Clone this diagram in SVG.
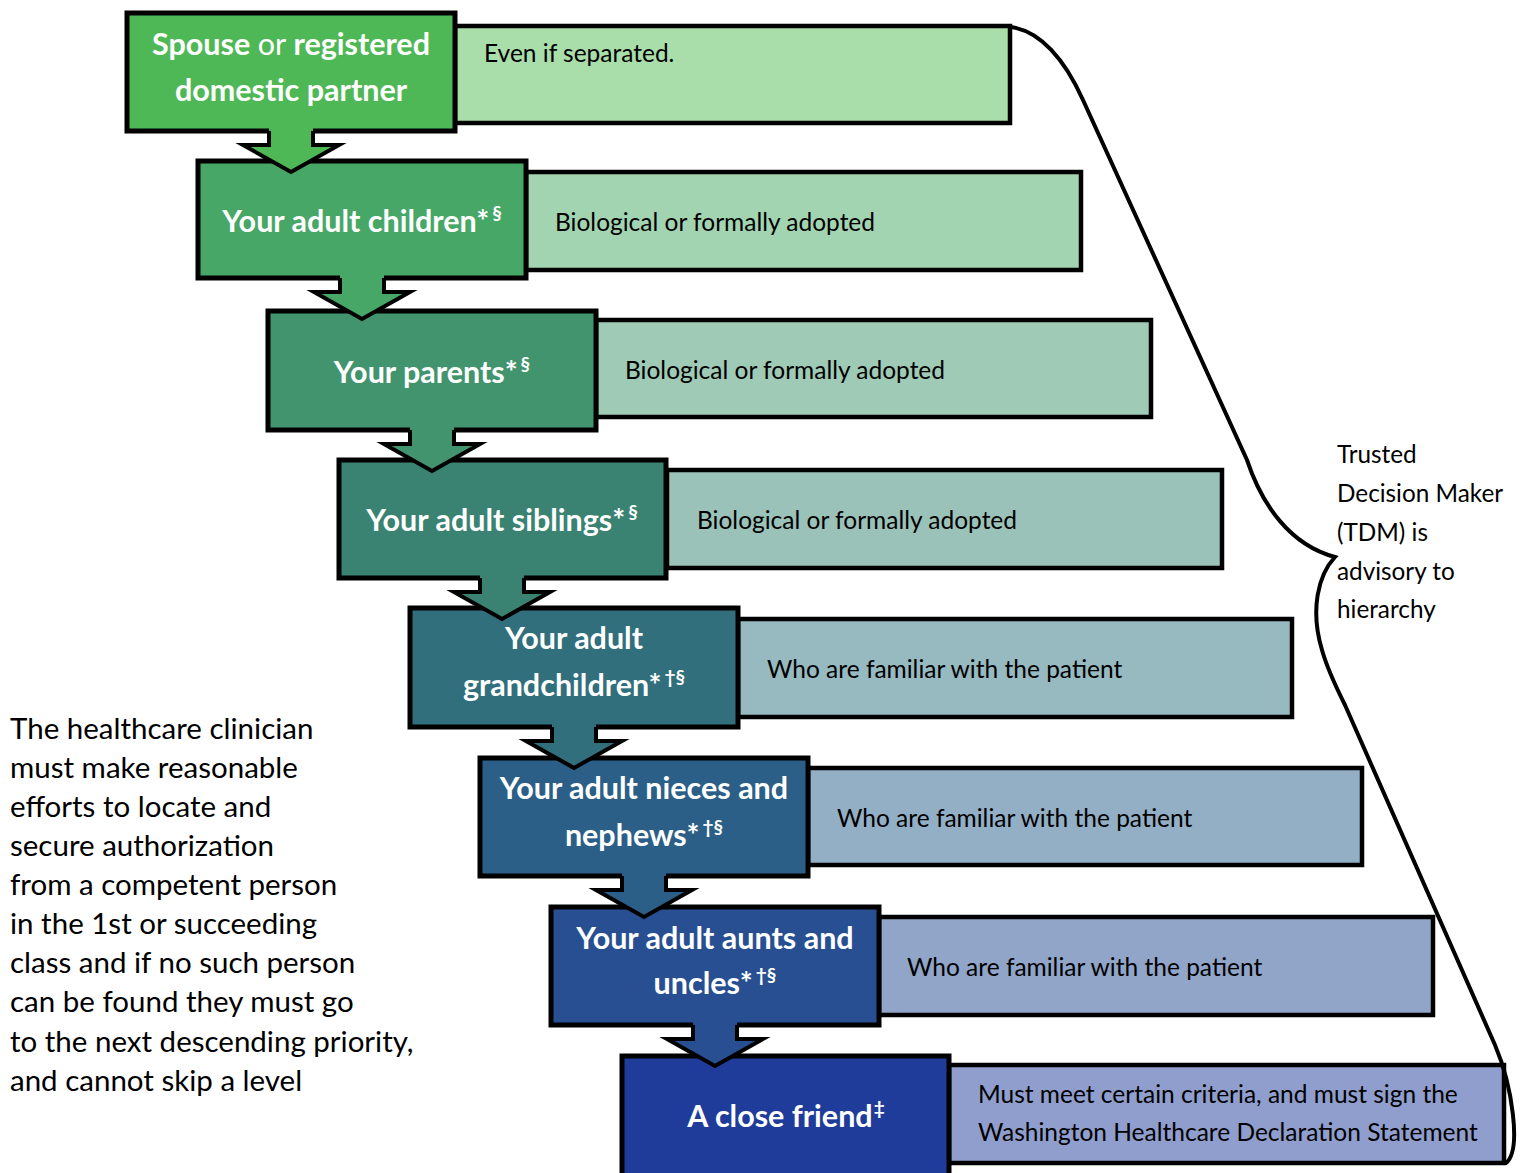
<svg xmlns="http://www.w3.org/2000/svg" width="1520" height="1173" viewBox="0 0 1520 1173">
<style>
.dk{stroke:#000;stroke-width:5}
.lt{stroke:#000;stroke-width:4.5}
.bt{font-family:Lato,"Liberation Sans",sans-serif;font-weight:bold;font-size:30.5px;fill:#fff;text-anchor:middle}
.nb{font-weight:normal}
.sp{font-size:19px}
.dt{font-family:Lato,"Liberation Sans",sans-serif;font-size:24.5px;fill:#000}
.side{font-family:Lato,"Liberation Sans",sans-serif;font-size:24.3px;fill:#000}
.left{font-family:Lato,"Liberation Sans",sans-serif;font-size:29.5px;fill:#000}
.ao{fill:none;stroke:#000;stroke-width:4;stroke-linejoin:miter}
.brace{fill:none;stroke:#000;stroke-width:4;stroke-linecap:round}
</style>
<rect width="1520" height="1173" fill="#fff"/>

<g id="detail1"><rect class="lt" x="455" y="26" width="555" height="97" fill="#a9dda9"/><text class="dt" x="484" y="62">Even if separated.</text></g>
<g id="detail2"><rect class="lt" x="526" y="172" width="555" height="98" fill="#a3d4b1"/><text class="dt" x="555" y="231">Biological or formally adopted</text></g>
<g id="detail3"><rect class="lt" x="596" y="320" width="555" height="97" fill="#9fcab5"/><text class="dt" x="625" y="379">Biological or formally adopted</text></g>
<g id="detail4"><rect class="lt" x="667" y="470" width="555" height="98" fill="#9bc2b8"/><text class="dt" x="697" y="529">Biological or formally adopted</text></g>
<g id="detail5"><rect class="lt" x="738" y="619" width="554" height="98" fill="#97b9c0"/><text class="dt" x="767" y="678">Who are familiar with the patient</text></g>
<g id="detail6"><rect class="lt" x="808" y="768" width="554" height="97" fill="#93afc5"/><text class="dt" x="837" y="827">Who are familiar with the patient</text></g>
<g id="detail7"><rect class="lt" x="879" y="917" width="554" height="98" fill="#90a5c8"/><text class="dt" x="907" y="976">Who are familiar with the patient</text></g>
<g id="detail8"><rect class="lt" x="949" y="1065" width="555" height="98" fill="#8f9ecd"/><text class="dt" x="978" y="1103">Must meet certain criteria, and must sign the</text><text class="dt" x="978" y="1141">Washington Healthcare Declaration Statement</text></g>

<g id="level1"><rect class="dk" x="127" y="13" width="328" height="118" fill="#4fb856"/><text class="bt" x="291" y="55">Spouse <tspan class="nb">or</tspan> registered</text><text class="bt" x="291" y="101">domestic partner</text></g>
<g id="level2"><rect class="dk" x="198" y="161" width="328" height="117" fill="#47a767"/><text class="bt" x="362" y="232">Your adult children*<tspan class="sp" dx="3" dy="-12">§</tspan></text></g>
<g id="level3"><rect class="dk" x="268" y="311" width="328" height="119" fill="#42946e"/><text class="bt" x="432" y="383">Your parents*<tspan class="sp" dx="3" dy="-12">§</tspan></text></g>
<g id="level4"><rect class="dk" x="339" y="460" width="327" height="118" fill="#3a8272"/><text class="bt" x="502" y="531">Your adult siblings*<tspan class="sp" dx="3" dy="-12">§</tspan></text></g>
<g id="level5"><rect class="dk" x="410" y="608" width="328" height="119" fill="#316f7d"/><text class="bt" x="574" y="649">Your adult</text><text class="bt" x="574" y="696">grandchildren*<tspan class="sp" dx="3" dy="-12">†§</tspan></text></g>
<g id="level6"><rect class="dk" x="480" y="758" width="328" height="118" fill="#2c5f87"/><text class="bt" x="644" y="799">Your adult nieces and</text><text class="bt" x="644" y="846">nephews*<tspan class="sp" dx="3" dy="-12">†§</tspan></text></g>
<g id="level7"><rect class="dk" x="551" y="907" width="328" height="118" fill="#274f92"/><text class="bt" x="715" y="949">Your adult aunts and</text><text class="bt" x="715" y="994">uncles*<tspan class="sp" dx="3" dy="-12">†§</tspan></text></g>
<g id="level8"><rect class="dk" x="622" y="1056" width="327" height="122" fill="#1f3c9b"/><text class="bt" x="786" y="1127">A close friend<tspan class="sp" dx="1" dy="-12">‡</tspan></text></g>

<g id="connectors">
<g id="a1" transform="translate(291,131)"><polygon points="-22,-3 22,-3 22,14 48,14 0,41 -48,14 -22,14" fill="#4fb856"/><polyline class="ao" points="22,0 22,14 48,14 0,41 -48,14 -22,14 -22,0"/></g>
<g id="a2" transform="translate(362,278)"><polygon points="-22,-3 22,-3 22,14 48,14 0,41 -48,14 -22,14" fill="#47a767"/><polyline class="ao" points="22,0 22,14 48,14 0,41 -48,14 -22,14 -22,0"/></g>
<g id="a3" transform="translate(432,430)"><polygon points="-22,-3 22,-3 22,14 48,14 0,41 -48,14 -22,14" fill="#42946e"/><polyline class="ao" points="22,0 22,14 48,14 0,41 -48,14 -22,14 -22,0"/></g>
<g id="a4" transform="translate(502,578)"><polygon points="-22,-3 22,-3 22,14 48,14 0,41 -48,14 -22,14" fill="#3a8272"/><polyline class="ao" points="22,0 22,14 48,14 0,41 -48,14 -22,14 -22,0"/></g>
<g id="a5" transform="translate(574,727)"><polygon points="-22,-3 22,-3 22,14 48,14 0,41 -48,14 -22,14" fill="#316f7d"/><polyline class="ao" points="22,0 22,14 48,14 0,41 -48,14 -22,14 -22,0"/></g>
<g id="a6" transform="translate(644,876)"><polygon points="-22,-3 22,-3 22,14 48,14 0,41 -48,14 -22,14" fill="#2c5f87"/><polyline class="ao" points="22,0 22,14 48,14 0,41 -48,14 -22,14 -22,0"/></g>
<g id="a7" transform="translate(715,1025)"><polygon points="-22,-3 22,-3 22,14 48,14 0,41 -48,14 -22,14" fill="#274f92"/><polyline class="ao" points="22,0 22,14 48,14 0,41 -48,14 -22,14 -22,0"/></g>
</g>

<g id="brace">
<path class="brace" d="M1010,27 C1040,30 1065,60 1083,100 L1247,460 C1262,505 1290,545 1335,557 C1318,575 1310,610 1322,650 C1327,668 1335,685 1345,705 L1495,1045 C1512,1085 1522,1150 1506,1163"/>
</g>

<g id="tdm-note">
<text class="side" x="1337" y="463">Trusted</text>
<text class="side" x="1337" y="502">Decision Maker</text>
<text class="side" x="1337" y="541">(TDM) is</text>
<text class="side" x="1337" y="580">advisory to</text>
<text class="side" x="1337" y="618">hierarchy</text>
</g>

<g id="left-note">
<text class="left" x="10" y="739">The healthcare clinician</text>
<text class="left" x="10" y="778">must make reasonable</text>
<text class="left" x="10" y="817">efforts to locate and</text>
<text class="left" x="10" y="856">secure authorization</text>
<text class="left" x="10" y="895">from a competent person</text>
<text class="left" x="10" y="934">in the 1st or succeeding</text>
<text class="left" x="10" y="973">class and if no such person</text>
<text class="left" x="10" y="1012">can be found they must go</text>
<text class="left" x="10" y="1052">to the next descending priority,</text>
<text class="left" x="10" y="1091">and cannot skip a level</text>
</g>
</svg>
